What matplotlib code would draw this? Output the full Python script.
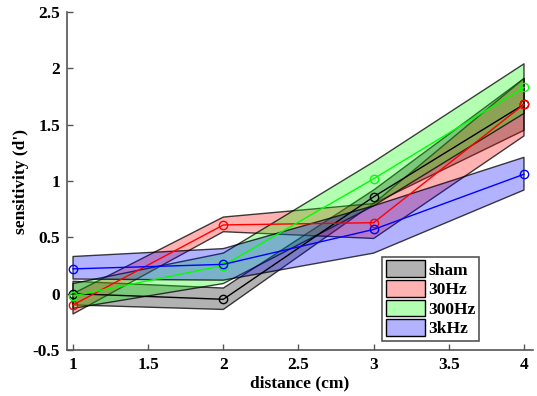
import matplotlib
matplotlib.use("Agg")
import matplotlib.pyplot as plt
from matplotlib.patches import Patch
from matplotlib.colors import to_rgba

# distance (cm)
distance = [1, 2, 3, 4]

# mean sensitivity (d') and band limits
sham_mean = [0.0, -0.05, 0.86, 1.68]
sham_lo = [-0.10, -0.14, 0.80, 1.45]
sham_hi = [0.11, 0.05, 0.92, 1.91]

hz30_mean = [-0.10, 0.61, 0.63, 1.68]
hz30_lo = [-0.18, 0.55, 0.49, 1.40]
hz30_hi = [0.00, 0.68, 0.80, 1.91]

hz300_mean = [-0.02, 0.25, 1.02, 1.83]
hz300_lo = [-0.13, 0.09, 0.78, 1.60]
hz300_hi = [0.09, 0.36, 1.17, 2.04]

khz3_mean = [0.22, 0.26, 0.57, 1.06]
khz3_lo = [0.13, 0.12, 0.36, 0.92]
khz3_hi = [0.33, 0.40, 0.78, 1.21]

labels = ["sham", "30Hz", "300Hz", "3kHz"]
colors = ["k", "r", (0, 1, 0), "b"]

plt.rcParams['font.family'] = ['Liberation Serif', 'DejaVu Serif']
plt.rcParams['font.weight'] = 'bold'

fig = plt.figure(figsize=(5.37, 3.96), dpi=100)
ax = fig.add_axes([67 / 537, 46 / 396, 466 / 537, 338 / 396])

groups = [
    (sham_mean, sham_lo, sham_hi),
    (hz30_mean, hz30_lo, hz30_hi),
    (hz300_mean, hz300_lo, hz300_hi),
    (khz3_mean, khz3_lo, khz3_hi),
]

for (m, lo, hi), c in zip(groups, colors):
    ax.fill_between(distance, lo, hi, facecolor=c, alpha=0.3,
                    edgecolor="none")
    ax.fill_between(distance, lo, hi, facecolor="none",
                    edgecolor=(0, 0, 0, 0.75), linewidth=1.0)
    ax.plot(distance, m, color=c, marker="o", markersize=6,
            markerfacecolor="none", linewidth=1.0)

ax.set_xlim(0.96, 4.06)
ax.set_ylim(-0.5, 2.5)
ax.set_xticks([1, 1.5, 2, 2.5, 3, 3.5, 4])
ax.set_xticklabels(["1", "1.5", "2", "2.5", "3", "3.5", "4"])
ax.set_yticks([-0.5, 0, 0.5, 1, 1.5, 2, 2.5])
ax.set_yticklabels(["-0.5", "0", "0.5", "1", "1.5", "2", "2.5"])

for s in ["top", "right"]:
    ax.spines[s].set_visible(False)
for s in ["left", "bottom"]:
    ax.spines[s].set_color("#555555")
    ax.spines[s].set_linewidth(1.2)
ax.tick_params(direction="in", length=4, color="#555555", labelsize=12.5,
               width=1, pad=5)

ax.set_xlabel("distance (cm)", fontsize=12.5, fontweight="bold", labelpad=2)
ax.set_ylabel("sensitivity (d')", fontsize=12.5, fontweight="bold", labelpad=3)

leg_handles = [Patch(facecolor=to_rgba(c, 0.3), edgecolor="k", linewidth=1.0)
               for c in colors]
leg = ax.legend(leg_handles, labels, loc="lower right",
                bbox_to_anchor=(0.884, 0.027), fontsize=12.5, frameon=True,
                fancybox=False, edgecolor="#555555", handlelength=2.3,
                handleheight=1.1, labelspacing=0.08, handletextpad=0.15,
                borderpad=0.2, borderaxespad=0.0, framealpha=1)
leg.get_frame().set_linewidth(1.2)
for t in leg.get_texts():
    t.set_fontweight("bold")

fig.savefig("out.png", dpi=100)
